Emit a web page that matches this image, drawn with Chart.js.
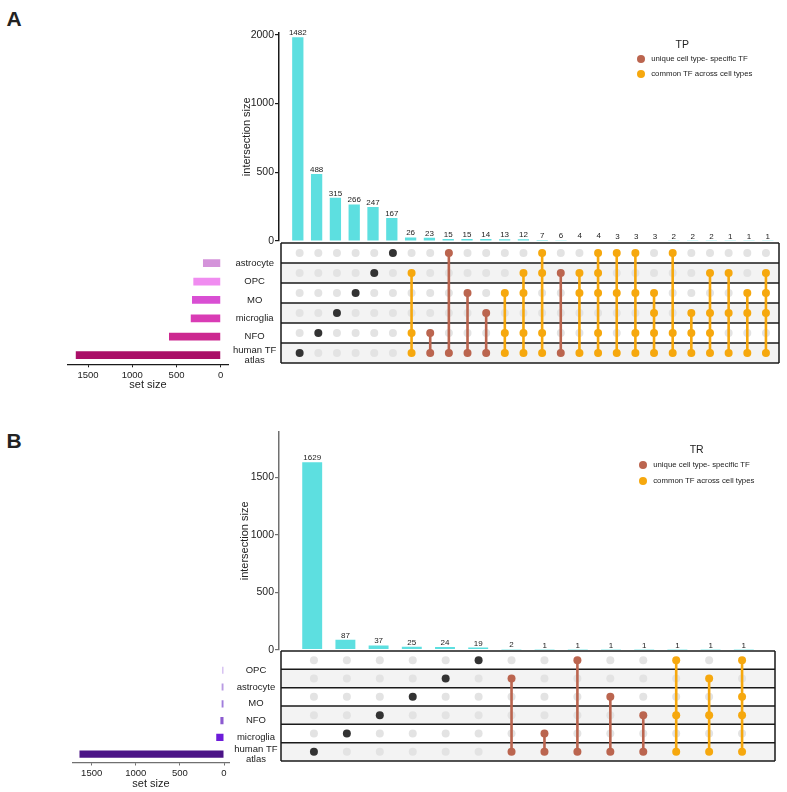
<!DOCTYPE html>
<html>
<head>
<meta charset="utf-8">
<script src="https://cdn.jsdelivr.net/npm/chart.js@4.4.1/dist/chart.umd.min.js"></script>
<style>
  body { margin: 0; background: #fff; font-family: 'Liberation Sans', Arial, sans-serif; color: #222; }
  #page { position: relative; width: 787px; height: 792px; overflow: hidden; }
  #page canvas { position: absolute; }
  .tag { position: absolute; font-size: 21px; font-weight: bold; line-height: 1; transform: translate(-50%, -50%); }
  .lg-title { position: absolute; font-size: 10.5px; line-height: 1; transform: translate(-50%, -50%); }
  .lg-dot { position: absolute; width: 8px; height: 8px; border-radius: 50%; transform: translate(-50%, -50%); }
  .lg-text { position: absolute; font-size: 7.8px; line-height: 1; white-space: nowrap; transform: translateY(-50%); }
</style>
</head>
<body>
<div id="page"></div>
<script>
const ATLAS = 'human TF atlas';

// panel A (TP)
const setNamesA = ['astrocyte', 'OPC', 'MO', 'microglia', 'NFO', ATLAS];
const setSizesA = [201, 310, 325, 339, 585, 1639];
const setColorsA = ['#d493da', '#f08cf0', '#d94fd3', '#d93cb5', '#cc2890', '#aa0f68'];
const interSizesA = [1482, 488, 315, 266, 247, 167, 26, 23, 15, 15, 14, 13, 12, 7, 6, 4, 4, 3, 3, 3, 2, 2, 2, 1, 1, 1];
const interSetsA = [
  [ATLAS], ['NFO'], ['microglia'], ['MO'], ['OPC'], ['astrocyte'],
  ['OPC', 'NFO', ATLAS],
  ['NFO', ATLAS],
  ['astrocyte', ATLAS],
  ['MO', ATLAS],
  ['microglia', ATLAS],
  ['MO', 'NFO', ATLAS],
  ['OPC', 'MO', 'NFO', ATLAS],
  ['astrocyte', 'OPC', 'NFO', ATLAS],
  ['OPC', ATLAS],
  ['OPC', 'MO', ATLAS],
  ['astrocyte', 'OPC', 'MO', 'NFO', ATLAS],
  ['astrocyte', 'MO', ATLAS],
  ['astrocyte', 'MO', 'NFO', ATLAS],
  ['MO', 'microglia', 'NFO', ATLAS],
  ['astrocyte', 'NFO', ATLAS],
  ['microglia', 'NFO', ATLAS],
  ['OPC', 'microglia', 'NFO', ATLAS],
  ['OPC', 'microglia', ATLAS],
  ['MO', 'microglia', ATLAS],
  ['OPC', 'MO', 'microglia', ATLAS],
];
const yTicksA = [0, 500, 1000, 1500];
const yTickLabelsA = ['0', '500', '1000', '2000'];

// panel B (TR)
const setNamesB = ['OPC', 'astrocyte', 'MO', 'NFO', 'microglia', ATLAS];
const setSizesB = [22, 27, 27, 41, 88, 1638];
const setColorsB = ['#d6c0f2', '#b99be3', '#a07ddc', '#8c5ad0', '#6d1cd9', '#4b1387'];
const interSizesB = [1629, 87, 37, 25, 24, 19, 2, 1, 1, 1, 1, 1, 1, 1];
const interSetsB = [
  [ATLAS], ['microglia'], ['NFO'], ['MO'], ['astrocyte'], ['OPC'],
  ['astrocyte', ATLAS],
  ['microglia', ATLAS],
  ['OPC', ATLAS],
  ['MO', ATLAS],
  ['NFO', ATLAS],
  ['OPC', 'NFO', ATLAS],
  ['astrocyte', 'NFO', ATLAS],
  ['OPC', 'MO', 'NFO', ATLAS],
];
const yTicksB = [0, 500, 1000, 1500];
const yTickLabelsB = ['0', '500', '1000', '1500'];

const setTicks = [0, 500, 1000, 1500];
const legendLabels = ['unique cell type- specific TF', 'common TF across cell types'];

const BAR = '#5ddfe0';
const DARK = '#333333';
const GRAY = '#e3e3e3';
const BROWN = '#bb654f';
const ORANGE = '#f6a80e';

Chart.defaults.font.family = "'Liberation Sans', Arial, sans-serif";
Chart.defaults.color = '#222';
Chart.defaults.animation = false;
Chart.defaults.plugins.legend.display = false;
Chart.defaults.plugins.tooltip.enabled = false;

const page = document.getElementById('page');

const geoA = {
  plotLeft: 279, plotRight: 781, plotTop: 32.5, baseY: 241, matrixBottom: 364.3,
  xMax: 25.7, yMax: 1517, titleX: 247, setLeft: 68, setRight: 228,
  setMin: -82, setMax: 1727, setTitleY: 385.3, axis: '#1a1a1a',
};
const geoB = {
  plotLeft: 279, plotRight: 777, plotTop: 432, baseY: 649.7, matrixBottom: 762.5,
  xMax: 14, yMax: 1893, titleX: 245, setLeft: 72.7, setRight: 229.3,
  setMin: -60, setMax: 1715, setTitleY: 784.3, axis: '#707070',
};

function place(left, top, right, bottom) {
  const L = Math.floor(left), T = Math.floor(top), R = Math.ceil(right), B = Math.ceil(bottom);
  const canvas = document.createElement('canvas');
  canvas.width = R - L;
  canvas.height = B - T;
  Object.assign(canvas.style, { left: L + 'px', top: T + 'px', width: (R - L) + 'px', height: (B - T) + 'px' });
  page.appendChild(canvas);
  return { canvas, L, T, R, B };
}

const barValues = {
  id: 'barValues',
  afterDatasetsDraw(chart) {
    const { ctx } = chart;
    const values = chart.data.datasets[0].data;
    ctx.save();
    ctx.font = "8px 'Liberation Sans', Arial, sans-serif";
    ctx.fillStyle = '#222';
    ctx.textAlign = 'center';
    ctx.textBaseline = 'alphabetic';
    chart.getDatasetMeta(0).data.forEach((bar, i) => ctx.fillText(values[i].y, bar.x, bar.y - 2));
    ctx.restore();
  },
};

const matrixGrid = {
  id: 'matrixGrid',
  beforeDatasetsDraw(chart, args, opts) {
    const { ctx, chartArea: a, scales: { y } } = chart;
    ctx.save();
    ctx.fillStyle = '#f3f3f3';
    for (let r = 1; r < opts.rows; r += 2) {
      const y0 = y.getPixelForValue(r - 0.5);
      ctx.fillRect(a.left, y0, a.right - a.left, y.getPixelForValue(r + 0.5) - y0);
    }
    ctx.strokeStyle = '#1a1a1a';
    ctx.lineWidth = 1.5;
    for (let r = 0; r <= opts.rows; r++) {
      const yy = y.getPixelForValue(r - 0.5);
      ctx.beginPath();
      ctx.moveTo(a.left, yy);
      ctx.lineTo(a.right, yy);
      ctx.stroke();
    }
    ctx.beginPath();
    ctx.moveTo(a.left, a.top);
    ctx.lineTo(a.left, a.bottom);
    ctx.moveTo(a.right, a.top);
    ctx.lineTo(a.right, a.bottom);
    ctx.stroke();
    ctx.restore();
  },
};

function renderIntersections(geo, sizes, ticks, tickLabels) {
  const c = place(geo.titleX - 6.6, geo.plotTop - 14, geo.plotRight + 1, geo.baseY + 10);
  new Chart(c.canvas, {
    type: 'bar',
    data: {
      datasets: [{
        data: sizes.map((v, i) => ({ x: i, y: v })),
        backgroundColor: BAR,
        barPercentage: 0.6,
        categoryPercentage: 1,
      }],
    },
    options: {
      responsive: false,
      layout: { padding: { left: 0, top: geo.plotTop - c.T, right: c.R - geo.plotRight, bottom: c.B - geo.baseY } },
      scales: {
        x: { type: 'linear', display: false, offset: false, grid: { offset: false }, bounds: 'data', min: -1, max: geo.xMax },
        y: {
          min: 0,
          max: geo.yMax,
          afterBuildTicks: (s) => { s.ticks = ticks.map((v) => ({ value: v })); },
          afterFit: (s) => { s.width = geo.plotLeft - c.L; },
          ticks: { callback: (v, i) => tickLabels[i], font: { size: 10.5 }, padding: 1, color: '#222' },
          grid: { drawOnChartArea: false, tickLength: 4, color: geo.axis, lineWidth: 1.2 },
          border: { color: geo.axis, width: 1.5 },
          title: { display: true, text: 'intersection size', font: { size: 11 }, padding: 0, color: '#222' },
        },
      },
    },
    plugins: [barValues],
  });
}

function matrixDatasets(names, sets) {
  const gray = [], dark = [], brown = [], orange = [], links = [];
  sets.forEach((members, col) => {
    const rows = members.map((m) => names.indexOf(m));
    names.forEach((_, row) => {
      if (!rows.includes(row)) gray.push({ x: col, y: row });
    });
    const pts = rows.map((row) => ({ x: col, y: row }));
    if (rows.length === 1) {
      dark.push(...pts);
      return;
    }
    const colour = rows.length === 2 ? BROWN : ORANGE;
    (rows.length === 2 ? brown : orange).push(...pts);
    links.push({
      data: [{ x: col, y: Math.min(...rows) }, { x: col, y: Math.max(...rows) }],
      showLine: true, borderColor: colour, borderWidth: 2.6, pointRadius: 0, order: 2,
    });
  });
  const dots = (data, color, order) => ({
    data, backgroundColor: color, pointRadius: 4, pointHoverRadius: 4, pointBorderWidth: 0, order,
  });
  return [dots(gray, GRAY, 3), ...links, dots(dark, DARK, 1), dots(brown, BROWN, 1), dots(orange, ORANGE, 1)];
}

function renderMatrix(geo, names, sets) {
  const c = place(geo.plotLeft - 2, geo.baseY - 2, geo.plotRight + 2, geo.matrixBottom + 2);
  new Chart(c.canvas, {
    type: 'scatter',
    data: { datasets: matrixDatasets(names, sets) },
    options: {
      responsive: false,
      layout: { padding: { left: geo.plotLeft - c.L, top: geo.baseY - c.T, right: c.R - geo.plotRight, bottom: c.B - geo.matrixBottom } },
      scales: {
        x: { type: 'linear', display: false, min: -1, max: geo.xMax },
        y: { type: 'linear', display: false, min: -0.5, max: names.length - 0.5, reverse: true },
      },
      plugins: { matrixGrid: { rows: names.length } },
    },
    plugins: [matrixGrid],
  });
}

function splitName(name) {
  if (name.length <= 9) return name;
  const k = name.lastIndexOf(' ');
  return [name.slice(0, k), name.slice(k + 1)];
}

function renderSetSizes(geo, names, sizes, colors) {
  const axisH = geo.setTitleY + 6.6 - geo.matrixBottom;
  const c = place(geo.setLeft - 6, geo.baseY - 2, geo.plotLeft, geo.matrixBottom + axisH + 2);
  new Chart(c.canvas, {
    type: 'bar',
    data: {
      labels: names,
      datasets: [{ data: sizes, backgroundColor: colors, barPercentage: 0.42, categoryPercentage: 1 }],
    },
    options: {
      indexAxis: 'y',
      responsive: false,
      layout: { padding: { left: geo.setLeft - c.L, top: geo.baseY - c.T, right: c.R - geo.plotLeft, bottom: c.B - geo.matrixBottom - axisH } },
      scales: {
        x: {
          type: 'linear',
          reverse: true,
          min: geo.setMin,
          max: geo.setMax,
          afterBuildTicks: (s) => { s.ticks = setTicks.map((v) => ({ value: v })); },
          afterFit: (s) => { s.height = axisH; },
          ticks: { font: { size: 9.5 }, padding: 2, maxRotation: 0, autoSkip: false, color: '#222', callback: (v) => String(v) },
          grid: { drawOnChartArea: false, tickLength: 3, color: geo.axis },
          border: { color: geo.axis, width: 1.2 },
          title: { display: true, text: 'set size', font: { size: 11 }, padding: 0, color: '#222' },
        },
        y: {
          type: 'category',
          position: 'right',
          afterFit: (s) => { s.width = geo.plotLeft - geo.setRight; },
          grid: { display: false, drawTicks: false },
          border: { display: false },
          ticks: {
            autoSkip: false, crossAlign: 'center', padding: 5, color: '#222',
            font: { size: 9.5, lineHeight: 1.05 },
            callback: (v, i) => splitName(names[i]),
          },
        },
      },
    },
  });
}

function addText(cls, text, x, y) {
  const el = document.createElement('div');
  el.className = cls;
  el.textContent = text;
  el.style.left = x + 'px';
  el.style.top = y + 'px';
  page.appendChild(el);
  return el;
}

function addLegend(title, titleX, titleY, dotX, rowYs) {
  addText('lg-title', title, titleX, titleY);
  [BROWN, ORANGE].forEach((color, i) => {
    const dot = addText('lg-dot', '', dotX, rowYs[i]);
    dot.style.background = color;
    addText('lg-text', legendLabels[i], dotX + 10.5, rowYs[i]);
  });
}

addText('tag', 'A', 14, 18);
renderIntersections(geoA, interSizesA, yTicksA, yTickLabelsA);
renderMatrix(geoA, setNamesA, interSetsA);
renderSetSizes(geoA, setNamesA, setSizesA, setColorsA);
addLegend('TP', 682.3, 44.3, 640.7, [58.7, 74.3]);

addText('tag', 'B', 14, 440);
renderIntersections(geoB, interSizesB, yTicksB, yTickLabelsB);
renderMatrix(geoB, setNamesB, interSetsB);
renderSetSizes(geoB, setNamesB, setSizesB, setColorsB);
addLegend('TR', 696.7, 449.3, 642.7, [465, 480.7]);
</script>
</body>
</html>
